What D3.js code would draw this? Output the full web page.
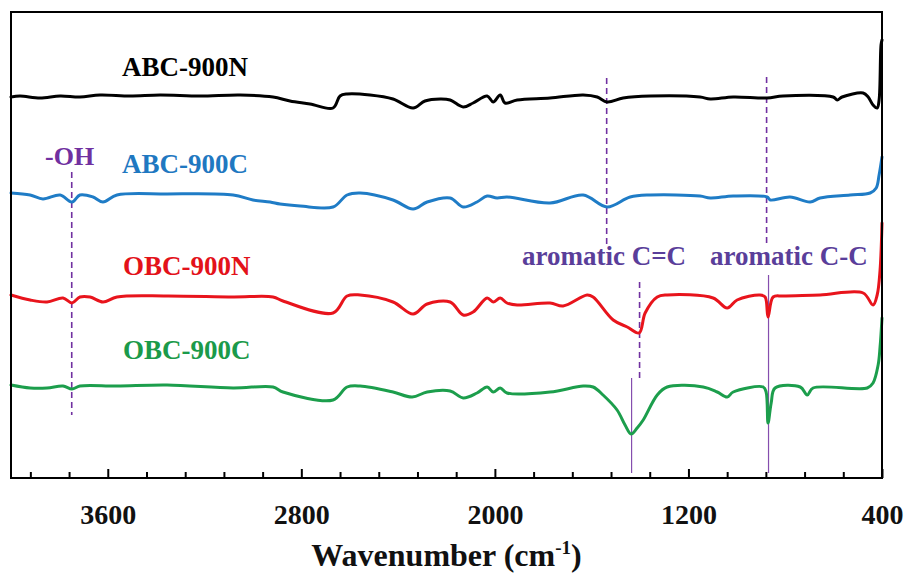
<!DOCTYPE html>
<html><head><meta charset="utf-8">
<script src="https://cdn.jsdelivr.net/npm/d3@7"></script>
<style>html,body{margin:0;padding:0;background:#fff;} svg{display:block;}</style>
</head><body>
<svg id="chart" width="909" height="581"></svg>
<script>
// ---------- DATA ----------
const seriesNames = ["ABC-900N", "ABC-900C", "OBC-900N", "OBC-900C"];
const seriesColors = ["#000000", "#1f7cc6", "#e8141c", "#1c9e4c"];

// wavenumber (cm-1) / transmittance (a.u., offset)
const wnABC900N = [4000,3963,3880,3797,3715,3632,3508,3384,3219,3053,2917,2847,2764,2669,2640,2611,2516,2421,2338,2289,2226,2185,2131,2090,2032,2007,1978,1958,1908,1772,1635,1577,1536,1470,1358,1152,1110,1015,875,809,602,585,565,478,457,437,420,412,404,400];
const tABC900N  = [381,382,380,382,381,383,382,383,382,383,381,377,374,370,382,384,383,379,370,377,379,378,371,375,382,376,383,375,378,380,383,381,376,380,382,381,379,381,380,382,381,378,381,385,381,373,370,378,433,438];

const wnABC900C = [4000,3921,3868,3797,3748,3715,3661,3620,3562,3355,3082,3000,2929,2888,2805,2669,2611,2557,2421,2338,2280,2185,2131,2074,2032,1991,1950,1772,1635,1536,1441,1358,1152,1110,1015,875,862,780,697,656,532,449,424,412,400];
const tABC900C  = [285,283,279,283,276,283,281,276,283,284,283,278,276,274,272,271,283,285,278,269,276,280,271,276,282,280,281,275,283,271,281,283,282,280,282,281,278,281,276,280,283,285,290,303,321];

const wnOBC900N = [4000,3921,3851,3785,3748,3715,3673,3620,3562,3355,3082,2917,2876,2669,2611,2557,2421,2338,2280,2185,2131,2090,2032,2007,1978,1950,1908,1772,1718,1619,1594,1511,1453,1404,1379,1329,1288,1098,1040,999,904,883,871,850,809,656,478,437,420,408,400];
const tOBC900N  = [183,178,176,180,175,181,181,176,181,182,181,181,177,165,182,183,176,164,174,176,163,166,180,176,180,175,173,175,172,183,181,158,151,145,165,181,183,180,170,178,183,181,161,181,182,183,185,173,183,208,255];

const wnOBC900C = [4000,3921,3851,3785,3748,3715,3562,3355,3082,2917,2876,2669,2611,2557,2421,2342,2280,2185,2131,2074,2032,2007,1978,1950,1772,1635,1594,1553,1495,1462,1437,1412,1387,1329,1288,1139,1081,1040,1015,891,879,871,858,842,738,709,685,461,437,416,408,400];
const tOBC900C  = [93,90,90,92,89,92,92,93,90,91,86,78,91,92,86,81,86,87,80,85,91,86,90,85,86,92,91,83,68,53,44,50,58,83,91,91,86,81,86,91,86,55,75,90,91,83,90,90,95,113,131,160];

const axisTicks  = [3920,3760,3600,3440,3280,3120,2960,2800,2640,2480,2320,2160,2000,1840,1680,1520,1360,1200,1040,880,720,560,400];
const axisLabels = [3600, 2800, 2000, 1200, 400];

// marker lines: wavenumber, from / to (a.u.), dashed?
const markerWn     = [3749, 1538, 877, 1402, 1435, 869];
const markerFrom   = [306, 400, 401, 196, 100, 203];
const markerTo     = [63, 233, 235, 98, 5, 5];
const markerDashed = [true, true, true, true, false, false];

const annoTexts = ["-OH", "aromatic C=C", "aromatic C-C"];

// ---------- CHART ----------
(function () {
const svg = d3.select("#chart");
const mLeft = 11, mRight = 882, mTop = 12, mBottom = 478;
const x = d3.scaleLinear().domain([4000, 400]).range([mLeft, mRight]);
const y = d3.scaleLinear().domain([0, 466]).range([mBottom, mTop]);
const serif = "'Liberation Serif','Times New Roman',serif";

const wns = [wnABC900N, wnABC900C, wnOBC900N, wnOBC900C];
const ts  = [tABC900N, tABC900C, tOBC900N, tOBC900C];

// marker lines
markerWn.forEach((w, i) => {
  svg.append("line")
    .attr("x1", x(w)).attr("x2", x(w))
    .attr("y1", y(markerFrom[i])).attr("y2", y(markerTo[i]))
    .attr("stroke", "#7030a0")
    .attr("stroke-width", markerDashed[i] ? 1.6 : 1.2)
    .attr("stroke-dasharray", markerDashed[i] ? "6,4" : null)
    .attr("opacity", markerDashed[i] ? 1 : 0.85);
});

// curves
const line = d3.line().x(d => x(d[0])).y(d => y(d[1])).curve(d3.curveCatmullRom.alpha(0.5));
seriesNames.forEach((name, i) => {
  const pts = wns[i].map((w, j) => [w, ts[i][j]]);
  svg.append("path").datum(pts)
    .attr("d", line)
    .attr("fill", "none")
    .attr("stroke", seriesColors[i])
    .attr("stroke-width", 3)
    .attr("stroke-linejoin", "round")
    .attr("stroke-linecap", "round");
});

// axis
const axis = d3.axisBottom(x)
  .tickValues(axisTicks)
  .tickSizeInner(-6)
  .tickSizeOuter(0)
  .tickPadding(26)
  .tickFormat(d => axisLabels.includes(d) ? String(d) : "");
const gx = svg.append("g").attr("transform", `translate(0,${mBottom})`).call(axis);
gx.select(".domain").remove();
gx.selectAll(".tick line").attr("stroke", "#000").attr("stroke-width", 2)
  .attr("y2", d => axisLabels.includes(d) ? -9 : -6);
gx.selectAll(".tick text")
  .attr("font-family", serif).attr("font-weight", "bold")
  .attr("font-size", 28).attr("fill", "#111");

// frame
svg.append("rect")
  .attr("x", mLeft).attr("y", mTop)
  .attr("width", mRight - mLeft).attr("height", mBottom - mTop)
  .attr("fill", "none").attr("stroke", "#000").attr("stroke-width", 2);

// series labels
const labelPos = [[122, 76], [122, 173], [123, 275], [123, 359]];
const labelColors = ["#000000", "#1f78c1", "#e3121a", "#1b9a4a"];
seriesNames.forEach((name, i) => {
  svg.append("text")
    .attr("x", labelPos[i][0]).attr("y", labelPos[i][1])
    .attr("font-family", serif).attr("font-weight", "bold")
    .attr("font-size", 27).attr("fill", labelColors[i])
    .text(name);
});

// annotations
const annoPos = [[45, 165, 26], [522, 265, 27], [710, 265, 27]];
const annoColors = ["#7030a0", "#5a3e9a", "#5a3e9a"];
annoTexts.forEach((t, i) => {
  svg.append("text")
    .attr("x", annoPos[i][0]).attr("y", annoPos[i][1])
    .attr("font-family", serif).attr("font-weight", "bold")
    .attr("font-size", annoPos[i][2]).attr("fill", annoColors[i])
    .text(t);
});

// x-axis title
const title = svg.append("text")
  .attr("x", (mLeft + mRight) / 2).attr("y", 566)
  .attr("text-anchor", "middle")
  .attr("font-family", serif).attr("font-weight", "bold")
  .attr("font-size", 32).attr("fill", "#111");
title.append("tspan").text("Wavenumber (cm");
title.append("tspan").attr("font-size", 19).attr("dy", -12).text("-1");
title.append("tspan").attr("dy", 12).text(")");
})();
</script>
</body></html>
